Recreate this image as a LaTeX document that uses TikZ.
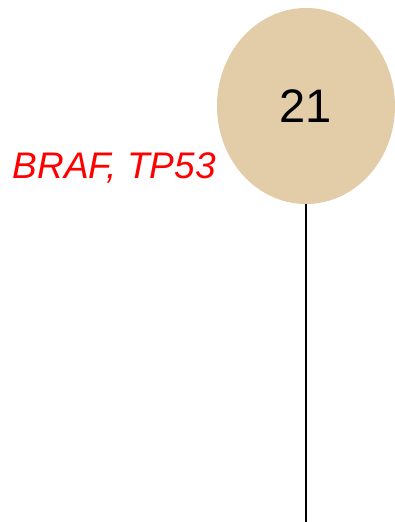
\documentclass[tikz,border=0pt]{standalone}
\usepackage{fontspec}
\setmainfont{Liberation Sans}
\usetikzlibrary{shapes.geometric}
\definecolor{tan}{HTML}{E2CDA8}
\begin{document}
\begin{tikzpicture}[x=1pt,y=-1pt,
  clone/.style={ellipse, fill=tan, minimum width=178pt, minimum height=196pt, inner sep=0pt, font=\fontsize{47}{47}\selectfont},
  genes/.style={text=red, font=\fontsize{37}{37}\selectfont\itshape, anchor=base east, inner sep=0pt},
  edge/.style={line width=1.8pt, black}]
\useasboundingbox (0,0) rectangle (395,522);
\node[clone] (c21) at (306,106) {21};
\coordinate (bottom) at (306,522);
\node[genes] (g21) at (216,178) {BRAF, TP53};
\draw[edge] (c21.south) -- (bottom);
\end{tikzpicture}
\end{document}
